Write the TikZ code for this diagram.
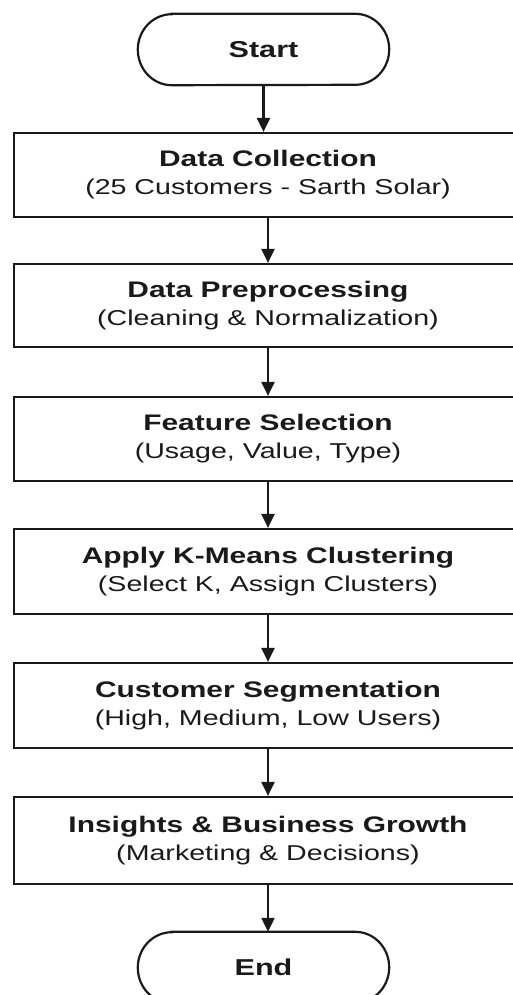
\documentclass[tikz,border=0pt]{standalone}
\usepackage{fontspec}
\setmainfont{Liberation Sans}[FakeStretch=1.33]
\usetikzlibrary{arrows.meta}
\definecolor{ink}{HTML}{1A1A1A}
\newcommand{\subfont}{\fontsize{21.5}{28}\selectfont}
\begin{document}
\begin{tikzpicture}[x=1pt,y=1pt,
  box/.style={draw=ink, line width=2.2pt, minimum width=508pt, minimum height=84pt, inner sep=0pt, align=center, text=ink, font=\fontsize{22.5}{28}\selectfont},
  pill/.style={minimum width=251pt, minimum height=71pt, inner sep=0pt, text=ink, font=\fontsize{23}{26}\selectfont\bfseries},
  pillline/.style={draw=ink, line width=2.2pt},
  arr/.style={draw=ink, line width=2.2pt, -{Triangle[length=14pt,width=13pt]}}]
\useasboundingbox (0,0) rectangle (513,-995);
\fill[white] (0,0) rectangle (513,-995);
\clip (0,0) rectangle (513,-995);

\node[pill] (start) at (263.5,-49.5) {Start};
\node[pill] (end) at (263.5,-967.5) {End};
\foreach \n in {start,end}{
  \draw[pillline] ([xshift=34pt]\n.north west) -- ([xshift=-34pt]\n.north east)
    arc[start angle=90,end angle=-90,x radius=34pt,y radius=35.5pt]
    -- ([xshift=34pt]\n.south west)
    arc[start angle=270,end angle=90,x radius=34pt,y radius=35.5pt] -- cycle;
}

\node[box] (dc) at (268,-175) {{\bfseries Data Collection}\\{\subfont (25 Customers - Sarth Solar)}};
\node[box, minimum height=83pt] (dp) at (268,-305.5) {{\bfseries Data Preprocessing}\\{\subfont (Cleaning \& Normalization)}};
\node[box] (fs) at (268,-439) {{\bfseries Feature Selection}\\{\subfont (Usage, Value, Type)}};
\node[box, minimum height=85pt] (km) at (268,-571.5) {{\bfseries Apply K-Means Clustering}\\{\subfont (Select K, Assign Clusters)}};
\node[box, minimum height=85pt] (cs) at (268,-705.5) {{\bfseries Customer Segmentation}\\{\subfont (High, Medium, Low Users)}};
\node[box, minimum height=87pt] (ig) at (268,-840.5) {{\bfseries Insights \& Business Growth}\\{\subfont (Marketing \& Decisions)}};

\draw[arr] (start.south) -- (start.south |- dc.north);
\draw[arr] (dc.south) -- (dp.north);
\draw[arr] (dp.south) -- (fs.north);
\draw[arr] (fs.south) -- (km.north);
\draw[arr] (km.south) -- (cs.north);
\draw[arr] (cs.south) -- (ig.north);
\draw[arr] (ig.south) -- (ig.south |- end.north);
\end{tikzpicture}
\end{document}
